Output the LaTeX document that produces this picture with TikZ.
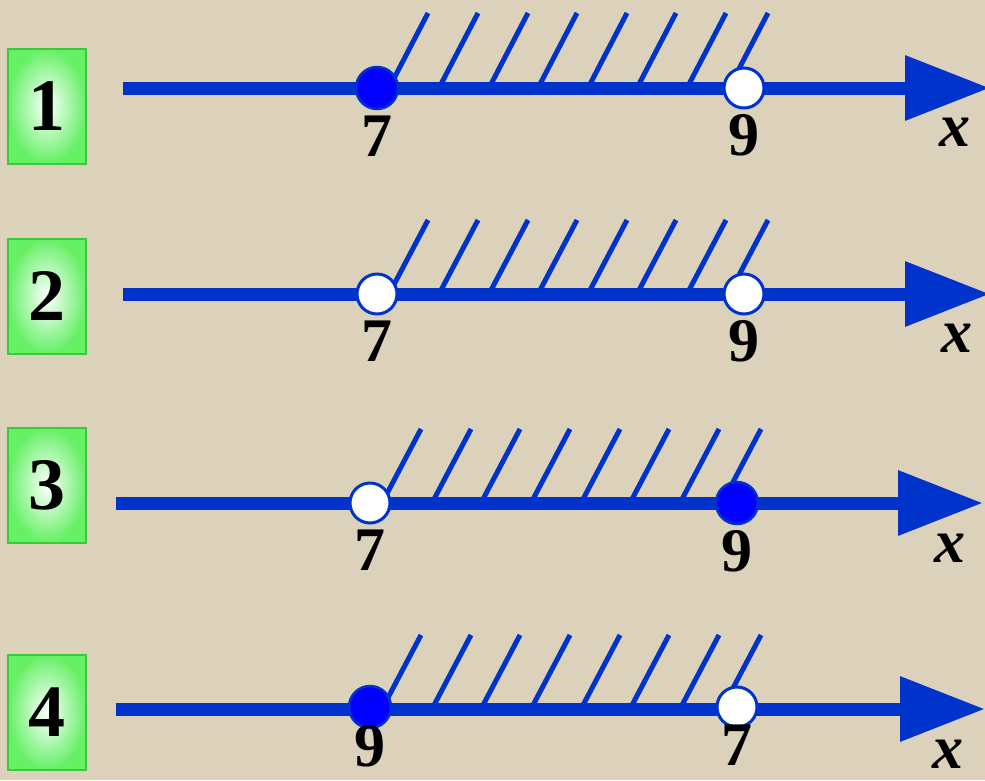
\documentclass[tikz,border=0pt]{standalone}
\usepackage{fontspec}
\setmainfont{Liberation Serif}
\usetikzlibrary{arrows.meta, positioning}

\definecolor{axisblue}{HTML}{0033CC}
\definecolor{dotblue}{HTML}{0000FF}
\definecolor{bgbeige}{HTML}{DCD2BC}
\definecolor{boxgreen}{HTML}{66F066}
\definecolor{boxedge}{HTML}{3CC83C}

\tikzset{
  axisline/.style={line width=13pt, draw=axisblue, -{Triangle[length=85pt, width=62pt]}},
  hatch/.style={line width=5pt, draw=axisblue},
  solidpt/.style={circle, draw=axisblue, fill=dotblue, line width=2.5pt, minimum size=42pt, inner sep=0pt},
  openpt/.style={circle, draw=axisblue, fill=white, line width=3pt, minimum size=40pt, inner sep=0pt},
  numlbl/.style={inner sep=0pt, font=\fontsize{62}{62}\selectfont\bfseries},
  varlbl/.style={inner sep=0pt, font=\fontsize{62}{62}\selectfont\bfseries\itshape},
  tagbox/.style={draw=boxedge, line width=2pt, inner color=white, outer color=boxgreen,
    minimum width=78pt, minimum height=115pt, inner sep=0pt, font=\fontsize{74}{74}\selectfont\bfseries}
}

\begin{document}
\begin{tikzpicture}[x=1pt, y=-1pt]
  % 背景
  \fill[bgbeige] (0,0) rectangle (985,780);
  \useasboundingbox (0,0) rectangle (985,780);

  % 第1行: 7 <= x < 9
  \node[tagbox] (b1) at (47,106) {1};
  \foreach \t in {428,478,528,577,627,676,726,768}
    \draw[hatch] ({\t-39},88) -- (\t,13);
  \coordinate (s1) at (123,88);
  \coordinate (e1) at (990,88);
  \draw[axisline] (s1) -- (e1);
  \node[solidpt] (p1a) at (377,88) {};
  \node[openpt] (p1b) at (744,88) {};
  \node[numlbl, below=5pt of p1a] (l1a) {7};
  \node[numlbl, below=5pt of p1b] (l1b) {9};
  \node[varlbl] (x1) at (955,132) {x};

  % 第2行: 7 < x < 9
  \node[tagbox] (b2) at (47,296) {2};
  \foreach \t in {428,478,528,577,627,676,726,768}
    \draw[hatch] ({\t-39},294) -- (\t,220);
  \coordinate (s2) at (123,294);
  \coordinate (e2) at (990,294);
  \draw[axisline] (s2) -- (e2);
  \node[openpt] (p2a) at (377,294) {};
  \node[openpt] (p2b) at (744,294) {};
  \node[numlbl, below=5pt of p2a] (l2a) {7};
  \node[numlbl, below=5pt of p2b] (l2b) {9};
  \node[varlbl] (x2) at (957,338) {x};

  % 第3行: 7 < x <= 9
  \node[tagbox] (b3) at (47,485) {3};
  \foreach \t in {421,471,520,570,620,669,719,761}
    \draw[hatch] ({\t-39},503) -- (\t,429);
  \coordinate (s3) at (116,503);
  \coordinate (e3) at (983,503);
  \draw[axisline] (s3) -- (e3);
  \node[openpt] (p3a) at (370,503) {};
  \node[solidpt] (p3b) at (737,503) {};
  \node[numlbl, below=5pt of p3a] (l3a) {7};
  \node[numlbl, below=5pt of p3b] (l3b) {9};
  \node[varlbl] (x3) at (950,548) {x};

  % 第4行: 9 <= x < 7
  \node[tagbox] (b4) at (47,712) {4};
  \foreach \t in {421,471,520,570,620,669,719,761}
    \draw[hatch] ({\t-39},709) -- (\t,635);
  \coordinate (s4) at (116,709);
  \coordinate (e4) at (985,709);
  \draw[axisline] (s4) -- (e4);
  \node[solidpt] (p4a) at (370,707) {};
  \node[openpt] (p4b) at (737,707) {};
  \node[numlbl, below=-4pt of p4a] (l4a) {9};
  \node[numlbl, below=-4pt of p4b] (l4b) {7};
  \node[varlbl] (x4) at (948,754) {x};
\end{tikzpicture}
\end{document}
